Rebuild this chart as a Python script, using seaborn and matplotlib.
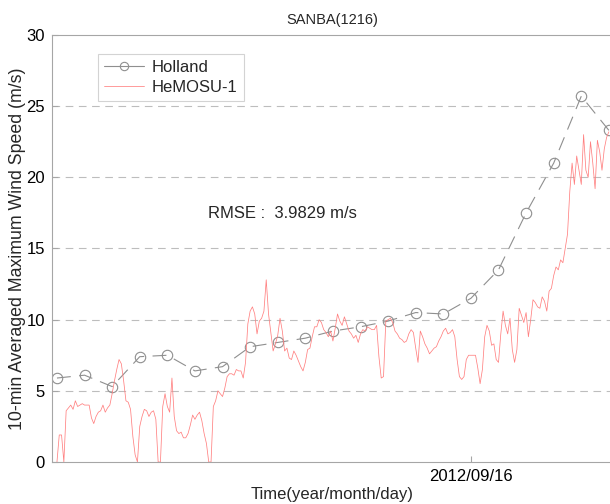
import pandas as pd
import matplotlib
matplotlib.use("Agg")
import matplotlib.pyplot as plt
import matplotlib.dates as mdates
import seaborn as sns

sns.set_style("white")
plt.rcParams["font.family"] = ["Liberation Sans", "DejaVu Sans"]
plt.rcParams["lines.scale_dashes"] = False

# Holland model, 6-hourly from 2012-09-12 06:00
holland_start = "2012-09-12 06:00"
holland_speed = [5.9, 6.1, 5.3, 7.4, 7.5, 6.4, 6.7, 8.1, 8.4, 8.7, 9.2,
                 9.5, 9.9, 10.5, 10.4, 11.5, 13.5, 17.5, 21.0, 25.7, 23.3]

# HeMOSU-1 observations, 30-min samples from 2012-09-12 06:00
hemosu_start = "2012-09-12 06:00"
hemosu_speed = [
    0.0, 1.9, 1.9, 0.0, 3.6, 3.8, 4.0, 3.7, 4.3, 3.9, 4.0, 4.1,
    4.0, 4.0, 4.0, 3.1, 2.7, 3.2, 3.5, 3.6, 4.0, 3.5, 3.8, 4.0,
    4.8, 5.7, 6.5, 7.2, 6.9, 5.7, 4.3, 4.2, 3.7, 1.8, 0.5, 0.0,
    2.5, 3.2, 3.7, 3.6, 3.2, 3.5, 3.6, 3.0, 0.0, 0.0, 3.9, 4.8,
    3.9, 3.5, 5.9, 3.2, 2.2, 2.0, 2.1, 1.7, 1.7, 2.0, 2.6, 3.3,
    3.0, 3.3, 3.5, 2.9, 2.0, 1.3, 0.0, 0.0, 3.9, 4.3, 5.0, 4.8,
    4.6, 5.2, 6.0, 6.2, 6.2, 6.1, 6.5, 6.4, 6.4, 5.9, 7.0, 9.7,
    10.6, 10.9, 10.4, 9.0, 9.9, 10.1, 10.6, 12.8, 10.4, 9.1, 7.8, 8.3,
    8.9, 10.1, 9.2, 7.8, 8.0, 7.3, 7.2, 7.8, 7.5, 7.1, 6.7, 6.4,
    7.0, 7.9, 8.0, 8.8, 9.5, 9.5, 10.0, 9.8, 9.3, 9.1, 8.8, 9.2,
    8.5, 9.4, 10.4, 9.9, 9.6, 10.2, 9.7, 9.2, 9.0, 8.7, 8.9, 8.4,
    9.0, 9.3, 9.2, 9.5, 9.4, 9.3, 9.3, 9.6, 7.4, 5.9, 6.0, 9.9,
    10.0, 10.1, 9.8, 9.2, 9.0, 8.7, 8.6, 8.4, 8.5, 9.0, 9.3, 9.1,
    8.0, 7.0, 9.2, 8.8, 8.3, 8.0, 7.6, 7.8, 8.0, 8.1, 8.5, 8.8,
    9.2, 9.4, 9.0, 9.1, 9.3, 8.8, 7.2, 6.0, 5.8, 6.0, 7.2, 7.5,
    7.5, 7.5, 7.5, 6.6, 5.5, 6.5, 8.8, 9.6, 9.2, 8.2, 8.3, 7.2,
    7.0, 9.0, 10.6, 9.6, 9.0, 10.1, 7.9, 7.0, 7.9, 10.8, 10.3, 9.8,
    10.5, 8.8, 10.0, 11.4, 11.2, 10.9, 10.8, 11.6, 11.3, 10.6, 12.0, 12.2,
    13.1, 13.7, 13.5, 14.2, 14.0, 15.0, 16.0, 19.0, 21.0, 19.5, 21.5, 20.5,
    19.5, 23.0, 20.5, 20.0, 22.5, 21.0, 19.2, 22.6, 21.8, 20.5, 22.0, 22.8,
    23.2,
]

holland = pd.DataFrame({
    "time": pd.date_range(holland_start, periods=len(holland_speed), freq="6h"),
    "speed": holland_speed,
})
hemosu = pd.DataFrame({
    "time": pd.date_range(hemosu_start, periods=len(hemosu_speed), freq="30min"),
    "speed": hemosu_speed,
})

fig = plt.figure(figsize=(6.1, 5.04), dpi=100)
ax = fig.add_axes([0.0852, 0.0833, 0.918, 0.8473])

sns.lineplot(data=holland, x="time", y="speed", ax=ax, color="#8f8f8f",
             linewidth=0.8, linestyle=(0, (10, 6)), marker="o", markersize=7.5,
             markerfacecolor="none", markeredgecolor="#8f8f8f",
             markeredgewidth=0.8, label="Holland")
sns.lineplot(data=hemosu, x="time", y="speed", ax=ax, color="#ff8080",
             linewidth=0.55, label="HeMOSU-1")

ax.set_ylim(0, 30)
ax.set_yticks([0, 5, 10, 15, 20, 25, 30])
ax.set_xlim(pd.Timestamp("2012-09-12 04:55"), pd.Timestamp("2012-09-17 06:40"))
ax.set_xticks([pd.Timestamp("2012-09-16")])
ax.xaxis.set_major_formatter(mdates.DateFormatter("%Y/%m/%d"))

for yv in [5, 10, 15, 20, 25]:
    ax.axhline(yv, color="#bdbdbd", linewidth=0.8, linestyle=(0, (5.5, 4)), zorder=0)

for side in ["left", "bottom", "top", "right"]:
    ax.spines[side].set_color("#a6a6a6")
    ax.spines[side].set_linewidth(0.8)
ax.tick_params(direction="in", length=4, color="#a6a6a6", labelsize=12,
               labelcolor="black", left=True, bottom=True, pad=5)

ax.set_title("SANBA(1216)", fontsize=10.5, pad=8)
ax.set_xlabel("Time(year/month/day)", fontsize=12, labelpad=2)
ax.set_ylabel("10-min Averaged Maximum Wind Speed (m/s)", fontsize=12.8, labelpad=0)

ax.text(0.278, 0.583, "RMSE :  3.9829 m/s", transform=ax.transAxes,
        fontsize=12, va="center", ha="left")

leg = ax.legend(loc="upper left", bbox_to_anchor=(0.082, 0.955), fontsize=12,
                frameon=True, fancybox=False, borderaxespad=0, borderpad=0.35,
                handlelength=2.4, handletextpad=0.5, labelspacing=0.3)
leg.get_frame().set_edgecolor("#c8c8c8")
leg.get_frame().set_linewidth(0.8)
handle = leg.get_lines()[0]
handle.set_linestyle("-")
handle.set_markersize(6)

fig.savefig("out.png", dpi=100)
